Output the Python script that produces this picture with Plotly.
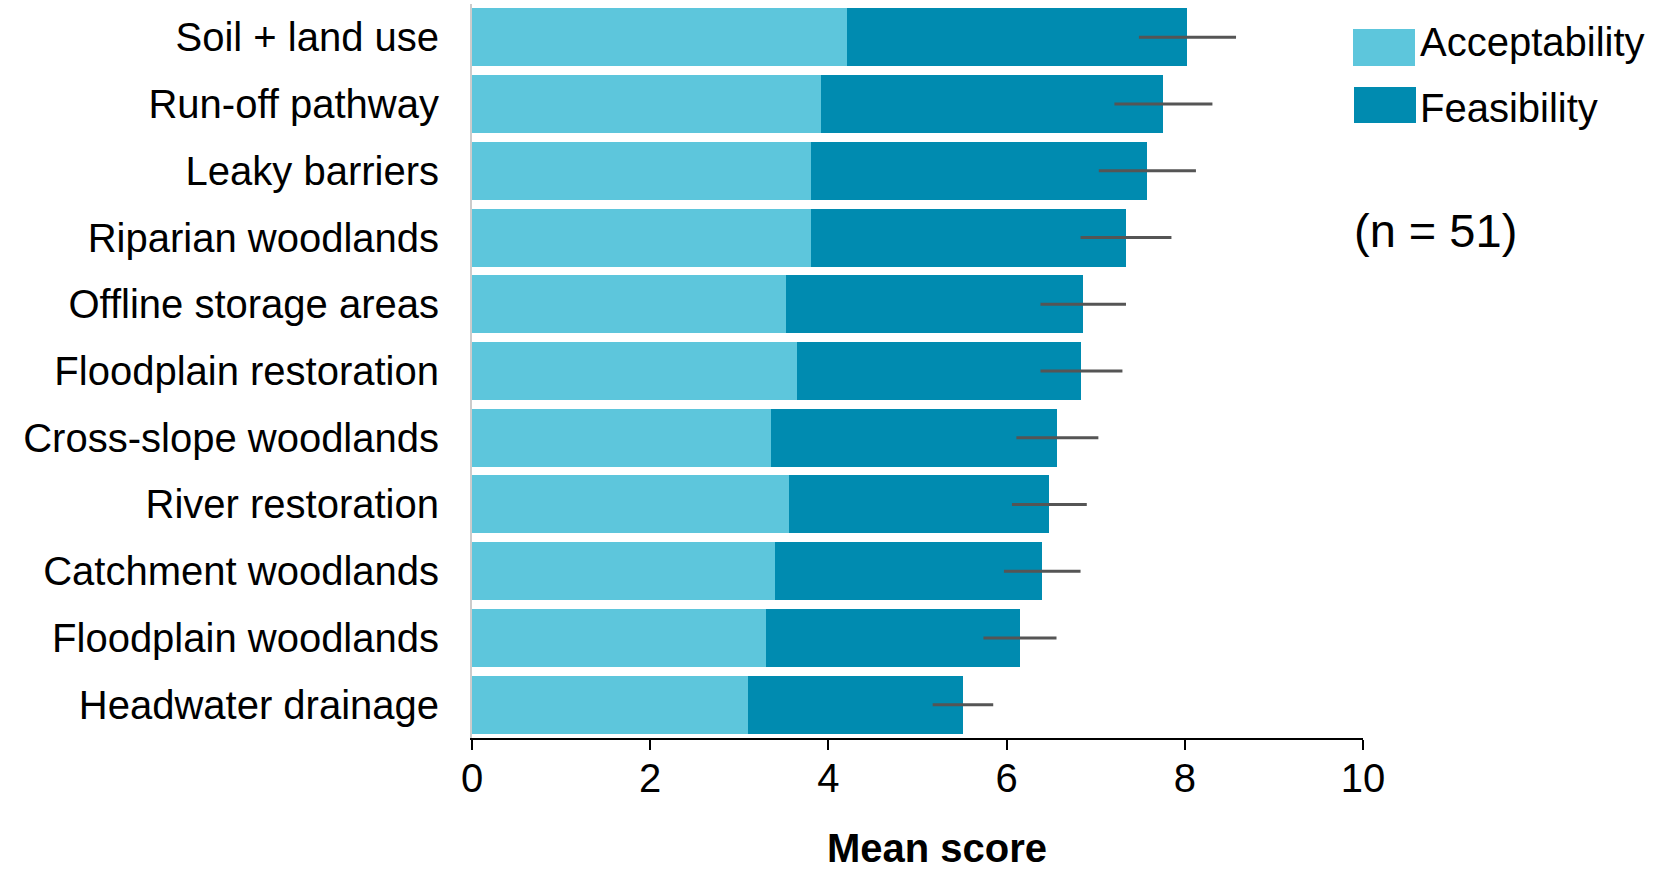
import plotly.graph_objects as go

categories = ["Soil + land use", "Run-off pathway", "Leaky barriers", "Riparian woodlands",
              "Offline storage areas", "Floodplain restoration", "Cross-slope woodlands",
              "River restoration", "Catchment woodlands", "Floodplain woodlands",
              "Headwater drainage"]
acceptability = [4.21, 3.92, 3.80, 3.80, 3.52, 3.65, 3.36, 3.56, 3.40, 3.30, 3.10]
feasibility = [3.82, 3.84, 3.78, 3.54, 3.34, 3.19, 3.21, 2.92, 3.00, 2.85, 2.41]
error = [0.545, 0.55, 0.545, 0.51, 0.48, 0.46, 0.46, 0.42, 0.43, 0.41, 0.34]
totals = [a + f for a, f in zip(acceptability, feasibility)]
x_ticks = [0, 2, 4, 6, 8, 10]

C_ACC = "#5DC6DC"
C_FEA = "#008BB0"
FONT = "Liberation Sans, Arial, Helvetica, sans-serif"

W, H = 1657, 869
ML, MR, MT, MB = 472, 294, 4, 131
PW = W - ML - MR
PH = H - MT - MB

def px(x):
    return (x - ML) / PW

def py(y):
    return (H - MB - y) / PH

fig = go.Figure()
fig.add_trace(go.Bar(y=categories, x=acceptability, orientation="h", name="Acceptability",
                     marker=dict(color=C_ACC, line=dict(width=0)), showlegend=False))
fig.add_trace(go.Bar(y=categories, x=feasibility, orientation="h", name="Feasibility",
                     marker=dict(color=C_FEA, line=dict(width=0)), showlegend=False))
fig.add_trace(go.Scatter(y=categories, x=totals, mode="markers",
                         marker=dict(size=1, opacity=0),
                         error_x=dict(type="data", array=error, symmetric=True,
                                      color="#555555", thickness=3, width=0),
                         showlegend=False, hoverinfo="skip"))

fig.update_layout(
    width=W, height=H,
    margin=dict(l=ML, r=MR, t=MT, b=MB, pad=0),
    barmode="stack", bargap=0.13,
    plot_bgcolor="white", paper_bgcolor="white",
    font=dict(family=FONT, color="black"),
    xaxis=dict(range=[0, 10], tickvals=x_ticks, ticktext=[str(t) for t in x_ticks],
               showgrid=False, zeroline=False, showline=True, linecolor="black",
               linewidth=2, ticks="outside", ticklen=10, tickwidth=2, tickcolor="black",
               ticklabelstandoff=-6,
               tickfont=dict(size=40, family=FONT)),
    yaxis=dict(range=[len(categories) - 0.5, -0.5], showgrid=False, zeroline=False,
               showline=True, linecolor="#cccccc", linewidth=2, ticks="",
               ticklabelstandoff=23, tickfont=dict(size=40, family=FONT)),
    shapes=[
        dict(type="rect", xref="paper", yref="paper", x0=px(1353), x1=px(1415),
             y0=py(29), y1=py(66), fillcolor=C_ACC, line=dict(width=0)),
        dict(type="rect", xref="paper", yref="paper", x0=px(1354), x1=px(1416),
             y0=py(87), y1=py(123), fillcolor=C_FEA, line=dict(width=0)),
    ],
    annotations=[
        dict(text="Acceptability", xref="paper", yref="paper", x=px(1418), y=py(42),
             xanchor="left", yanchor="middle", showarrow=False,
             font=dict(size=40, family=FONT, color="black")),
        dict(text="Feasibility", xref="paper", yref="paper", x=px(1418), y=py(108),
             xanchor="left", yanchor="middle", showarrow=False,
             font=dict(size=40, family=FONT, color="black")),
        dict(text="(n = 51)", xref="paper", yref="paper", x=px(1352), y=py(231),
             xanchor="left", yanchor="middle", showarrow=False,
             font=dict(size=47, family=FONT, color="black")),
        dict(text="<b>Mean score</b>", xref="paper", yref="paper", x=px(937), y=py(848),
             xanchor="center", yanchor="middle", showarrow=False,
             font=dict(size=40, family=FONT, color="black")),
    ],
)

fig.write_html("out.html")
